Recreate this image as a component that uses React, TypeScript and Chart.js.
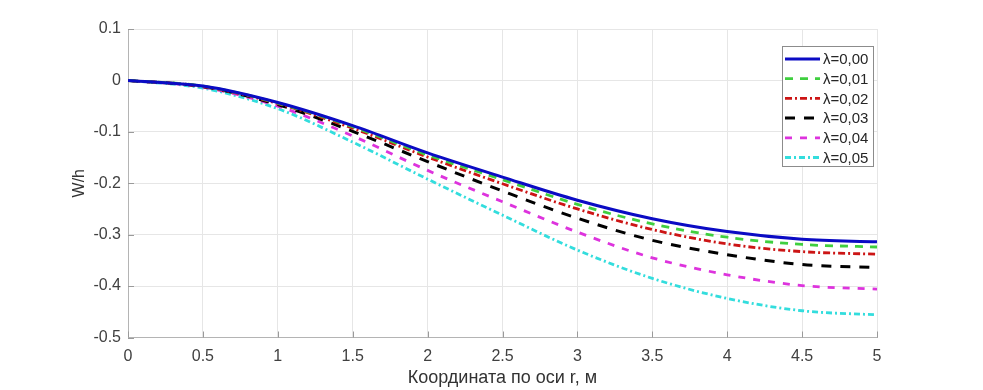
import React, { useEffect, useRef } from "react";
import { Chart, registerables } from "chart.js";

Chart.register(...registerables);

// ---- data ----
const xValues = [0, 0.5, 1, 1.5, 2, 2.5, 3, 3.5, 4, 4.5, 5];
const wLambda000 = [0, -0.011, -0.043, -0.088, -0.141, -0.188, -0.233, -0.269, -0.294, -0.309, -0.314];
const wLambda001 = [0, -0.011, -0.044, -0.090, -0.145, -0.193, -0.241, -0.279, -0.305, -0.319, -0.324];
const wLambda002 = [0, -0.012, -0.045, -0.093, -0.149, -0.201, -0.250, -0.290, -0.318, -0.333, -0.338];
const wLambda003 = [0, -0.012, -0.047, -0.099, -0.158, -0.215, -0.268, -0.311, -0.339, -0.358, -0.364];
const wLambda004 = [0, -0.013, -0.050, -0.108, -0.175, -0.236, -0.295, -0.345, -0.378, -0.399, -0.406];
const wLambda005 = [0, -0.015, -0.055, -0.120, -0.192, -0.262, -0.330, -0.385, -0.424, -0.448, -0.456];
const seriesLabels = ["λ=0,00", "λ=0,01", "λ=0,02", "λ=0,03", "λ=0,04", "λ=0,05"];
const xTicks = [0, 0.5, 1, 1.5, 2, 2.5, 3, 3.5, 4, 4.5, 5];
const yTicks = [0.1, 0, -0.1, -0.2, -0.3, -0.4, -0.5];
const xTitle = "Координата по оси r, м";
const yTitle = "W/h";

const seriesValues = [wLambda000, wLambda001, wLambda002, wLambda003, wLambda004, wLambda005];
const seriesColors = ["#0b0bc4", "#3fcf3f", "#cc1515", "#000000", "#dd33dd", "#33dddd"];
const seriesDash: number[][] = [[], [8, 7], [7, 3, 2, 3], [10, 9], [7, 8], [6, 3, 2, 3]];
const seriesWidth = [3, 2.8, 2.8, 3, 2.8, 2.8];

const FONT = "'Liberation Sans', Arial, Helvetica, sans-serif";

const innerTicksPlugin = {
  id: "innerTicks",
  beforeDatasetsDraw(chart: any) {
    const { ctx, chartArea, scales } = chart;
    ctx.save();
    ctx.strokeStyle = "#9a9a9a";
    ctx.lineWidth = 1;
    ctx.beginPath();
    for (const v of xTicks) {
      const px = Math.round(scales.x.getPixelForValue(v)) + 0.5;
      ctx.moveTo(px, chartArea.bottom);
      ctx.lineTo(px, chartArea.bottom - 6);
    }
    for (const v of yTicks) {
      const py = Math.round(scales.y.getPixelForValue(v)) + 0.5;
      ctx.moveTo(chartArea.left, py);
      ctx.lineTo(chartArea.left + 6, py);
    }
    ctx.stroke();
    ctx.restore();
  },
};

const boxLegendPlugin = {
  id: "boxLegend",
  afterDatasetsDraw(chart: any) {
    const { ctx, chartArea } = chart;
    const w = 91;
    const h = 120;
    const left = chartArea.right - 4 - w;
    const top = chartArea.top + 17;
    ctx.save();
    ctx.fillStyle = "#ffffff";
    ctx.fillRect(left, top, w, h);
    ctx.strokeStyle = "#8c8c8c";
    ctx.lineWidth = 1;
    ctx.strokeRect(Math.round(left) + 0.5, Math.round(top) + 0.5, w, h);
    ctx.font = `15px ${FONT}`;
    ctx.textBaseline = "middle";
    ctx.textAlign = "left";
    chart.data.datasets.forEach((ds: any, i: number) => {
      const y = top + 13 + i * 19.7;
      ctx.beginPath();
      ctx.setLineDash(ds.borderDash || []);
      ctx.strokeStyle = ds.borderColor;
      ctx.lineWidth = ds.borderWidth;
      ctx.moveTo(left + 3, y);
      ctx.lineTo(left + 38, y);
      ctx.stroke();
      ctx.setLineDash([]);
      ctx.fillStyle = "#262626";
      ctx.fillText(ds.label, left + 41, y + 1);
    });
    ctx.restore();
  },
};

export default function App() {
  const canvasRef = useRef<HTMLCanvasElement | null>(null);

  useEffect(() => {
    if (!canvasRef.current) return;
    const datasets = seriesValues.map((vals, i) => ({
      label: seriesLabels[i],
      data: xValues.map((x, j) => ({ x, y: vals[j] })),
      borderColor: seriesColors[i],
      backgroundColor: seriesColors[i],
      borderDash: seriesDash[i],
      borderWidth: seriesWidth[i],
      pointRadius: 0,
      fill: false,
      cubicInterpolationMode: "monotone" as const,
    }));
    const chart = new Chart(canvasRef.current, {
      type: "line",
      data: { datasets },
      options: {
        animation: false,
        responsive: true,
        maintainAspectRatio: false,
        layout: { padding: { left: 0, right: 106, top: 29, bottom: 0 } },
        plugins: { legend: { display: false }, tooltip: { enabled: false } },
        scales: {
          x: {
            type: "linear",
            min: 0,
            max: 5,
            afterBuildTicks: (s: any) => {
              s.ticks = xTicks.map((v) => ({ value: v }));
            },
            afterFit: (s: any) => {
              s.height = 52.5;
            },
            ticks: {
              padding: 9,
              color: "#404040",
              font: { family: FONT, size: 16 },
              callback: (v: any) => String(v),
              maxRotation: 0,
              autoSkip: false,
            },
            grid: { color: "#e6e6e6", drawTicks: false },
            border: { color: "#b4b4b4", width: 1 },
            title: {
              display: true,
              text: xTitle,
              color: "#333333",
              font: { family: FONT, size: 18 },
              padding: { top: 0, bottom: 1 },
            },
          },
          y: {
            type: "linear",
            min: -0.5,
            max: 0.1,
            afterBuildTicks: (s: any) => {
              s.ticks = yTicks.map((v) => ({ value: v }));
            },
            afterFit: (s: any) => {
              s.width = 128;
            },
            ticks: {
              padding: 7,
              color: "#404040",
              font: { family: FONT, size: 16 },
              callback: (v: any) => (Math.abs(v) < 1e-9 ? "0" : Number(v).toFixed(1)),
              autoSkip: false,
            },
            grid: { color: "#e6e6e6", drawTicks: false },
            border: { color: "#b4b4b4", width: 1 },
            title: {
              display: true,
              text: yTitle,
              color: "#333333",
              font: { family: FONT, size: 16 },
              padding: { top: 70, bottom: 0 },
            },
          },
        },
      },
      plugins: [innerTicksPlugin, boxLegendPlugin],
    });
    return () => chart.destroy();
  }, []);

  return (
    <div style={{ position: "fixed", left: 0, top: 0, width: 983, height: 390, background: "#ffffff" }}>
      <canvas ref={canvasRef} />
    </div>
  );
}
